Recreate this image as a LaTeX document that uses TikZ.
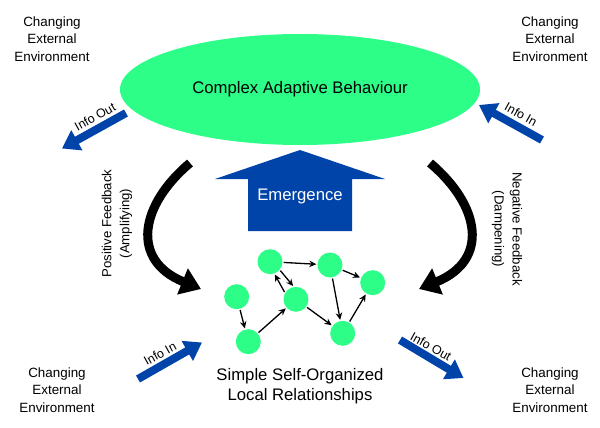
\documentclass[tikz,border=0pt]{standalone}
\usepackage{fontspec}
\setmainfont{Liberation Sans}
\usetikzlibrary{arrows.meta,shapes.geometric}
\definecolor{mint}{RGB}{44,254,136}
\definecolor{deepblue}{RGB}{0,68,170}
\tikzset{
  envtext/.style={align=center,font=\fontsize{13.4}{17.5}\selectfont,inner sep=0pt},
  infotext/.style={font=\fontsize{12.5}{14}\selectfont,inner sep=0pt},
  infoarrow/.style={draw=deepblue,line width=8pt,-{Triangle[width=22pt,length=17pt]}},
  fbarrow/.style={draw=black,line width=9pt,-{Triangle[width=27pt,length=20pt]}},
  agent/.style={circle,fill=mint,minimum size=25pt,inner sep=0pt},
  link/.style={draw=black,line width=1.3pt,-{Stealth[length=7pt,width=6.5pt]},shorten >=1pt,shorten <=1pt},
}
\begin{document}
\begin{tikzpicture}[x=1pt,y=-1pt]
\useasboundingbox (0,0) rectangle (600,428);
% ellipse
\node[ellipse,fill=mint,minimum width=360pt,minimum height=111pt,inner sep=0pt] (cab) at (300,89.5) {};
\node[font=\fontsize{16.7}{20}\selectfont] (cabt) at (300,89) {Complex Adaptive Behaviour};
% corner texts
\node[envtext] (tl) at (52,39) {Changing\\External\\Environment};
\node[envtext] (tr) at (550,39) {Changing\\External\\Environment};
\node[envtext] (bl) at (57,390) {Changing\\External\\Environment};
\node[envtext] (br) at (550,390) {Changing\\External\\Environment};
% info arrows
\coordinate (ioA1) at (126,113); \coordinate (ioA2) at (62,148.5);
\draw[infoarrow] (ioA1) -- (ioA2);
\node[infotext,rotate=29] (ioAt) at (95,117) {Info Out};
\coordinate (iiA1) at (542,140); \coordinate (iiA2) at (479,105);
\draw[infoarrow] (iiA1) -- (iiA2);
\node[infotext,rotate=-29] (iiAt) at (521,114.5) {Info In};
\coordinate (iiB1) at (138,379); \coordinate (iiB2) at (202,342.5);
\draw[infoarrow] (iiB1) -- (iiB2);
\node[infotext,rotate=29] (iiBt) at (160,353.5) {Info In};
\coordinate (ioB1) at (400,340); \coordinate (ioB2) at (463.5,378);
\draw[infoarrow] (ioB1) -- (ioB2);
\node[infotext,rotate=-29] (ioBt) at (431,346.5) {Info Out};
% emergence
\fill[deepblue] (248,231) -- (352,231) -- (352,179) -- (385,179) -- (300,150) -- (215,179) -- (248,179) -- cycle;
\node[text=white,font=\fontsize{16.7}{20}\selectfont] (em) at (300,196) {Emergence};
% feedback arrows
\coordinate (pf1) at (190,163); \coordinate (pf2) at (201,289);
\draw[fbarrow] (pf1) .. controls (140,205) and (130,260) .. (pf2);
\coordinate (nf1) at (430,163); \coordinate (nf2) at (419,289);
\draw[fbarrow] (nf1) .. controls (480,205) and (490,260) .. (nf2);
\node[envtext,rotate=90,font=\fontsize{13.2}{18}\selectfont] (pft) at (117,223.5) {Positive Feedback\\(Amplifying)};
\node[envtext,rotate=-90,font=\fontsize{13.2}{18}\selectfont] (nft) at (507,229) {Negative Feedback\\(Dampening)};
% network
\node[agent] (A) at (270,261.7) {};
\node[agent] (B) at (330,265) {};
\node[agent] (C) at (372.7,282.7) {};
\node[agent] (D) at (236.7,296.7) {};
\node[agent] (E) at (296,299.3) {};
\node[agent] (F) at (248.3,341.7) {};
\node[agent] (G) at (342.7,333.3) {};
\draw[link] (A) -- (B);
\draw[link] (A.-40) -- (E.100);
\draw[link] (E.150) -- (A.-70);
\draw[link] (B) -- (C);
\draw[link] (B) -- (G);
\draw[link] (G) -- (C);
\draw[link] (E) -- (G);
\draw[link] (D) -- (F);
\draw[link] (F) -- (E);
% bottom text
\node[align=center,font=\fontsize{16.7}{19.5}\selectfont] (slr) at (300,386) {Simple Self-Organized\\Local Relationships};
\end{tikzpicture}
\end{document}
